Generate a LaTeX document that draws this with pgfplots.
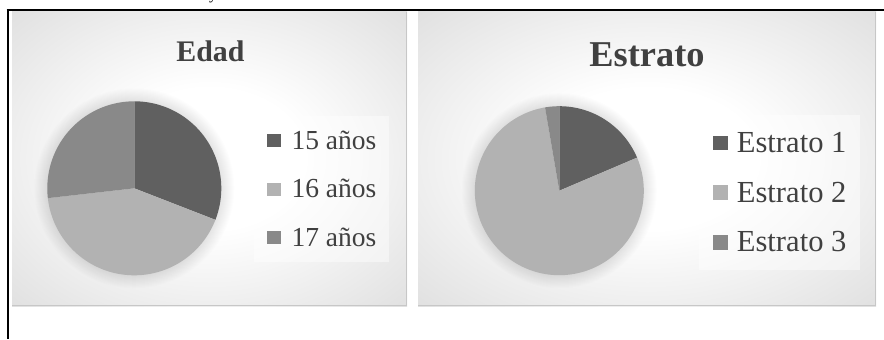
\documentclass[border=0pt]{standalone}
\usepackage{pgfplots}
\pgfplotsset{compat=1.18}
\usepackage{pgfplotstable}
\usepackage{fontspec}
\setmainfont{Liberation Serif}

\definecolor{sA}{HTML}{606060}
\definecolor{sB}{HTML}{B2B2B2}
\definecolor{sC}{HTML}{898989}
\definecolor{txt}{HTML}{404040}
\definecolor{edgeg}{HTML}{BCBCBC}
\definecolor{midg}{HTML}{CECECE}
\pgfdeclareradialshading{panelshade}{\pgfpoint{0bp}{0bp}}{color(0bp)=(white); color(12bp)=(white); color(50bp)=(midg); color(71bp)=(edgeg)}

\pgfplotstableread{
valor
30.9
42.3
26.8
}\edad
\pgfplotstableread{
valor
18.6
78.7
2.7
}\estrato

\begin{document}
\begin{tikzpicture}[x=1bp,y=1bp]
\useasboundingbox (0,0) rectangle (884,339);
% cut-off text above
\node[anchor=base, inner sep=0pt, font=\fontsize{16}{16}\selectfont] at (213,339.5) {y};
% table borders
\draw[line width=2bp] (6.7,328.5) -- (884,328.5);
\draw[line width=2bp] (7.7,329.5) -- (7.7,0);
% panels
\shade[shading=panelshade] (12,33) rectangle (407,327);
\shade[shading=panelshade] (418,33) rectangle (876,327);
\draw[black!22, line width=1.2bp] (12,33.6) -- (406.4,33.6) -- (406.4,327);
\draw[black!22, line width=1.2bp] (418,33.6) -- (875.4,33.6) -- (875.4,327);
% pie halos
\foreach \k in {1,...,14} {
  \fill[black, opacity=0.008] (134.3,150.7) circle ({86+\k});
  \fill[black, opacity=0.008] (559.3,148.3) circle ({83.5+\k});
}
% titles
\node[anchor=base, inner sep=0pt, text=txt, font=\bfseries\fontsize{30}{30}\selectfont] at (210.5,278) {Edad};
\node[anchor=base, inner sep=0pt, text=txt, font=\bfseries\fontsize{36.5}{36.5}\selectfont] at (647,273) {Estrato};

% angles for Edad
\pgfplotstablegetelem{0}{valor}\of\edad\let\eA\pgfplotsretval
\pgfplotstablegetelem{1}{valor}\of\edad\let\eB\pgfplotsretval
\pgfplotstablegetelem{2}{valor}\of\edad\let\eC\pgfplotsretval
\pgfmathsetmacro\eT{\eA+\eB+\eC}
\pgfmathsetmacro\ea{90}
\pgfmathsetmacro\eb{90-360*(\eA/\eT)}
\pgfmathsetmacro\ec{90-360*((\eA+\eB)/\eT)}
\pgfmathsetmacro\ed{90-360}
% angles for Estrato
\pgfplotstablegetelem{0}{valor}\of\estrato\let\sa\pgfplotsretval
\pgfplotstablegetelem{1}{valor}\of\estrato\let\sb\pgfplotsretval
\pgfplotstablegetelem{2}{valor}\of\estrato\let\sc\pgfplotsretval
\pgfmathsetmacro\sT{\sa+\sb+\sc}
\pgfmathsetmacro\ta{90}
\pgfmathsetmacro\tb{90-360*(\sa/\sT)}
\pgfmathsetmacro\tc{90-360*((\sa+\sb)/\sT)}
\pgfmathsetmacro\td{90-360}

\begin{axis}[at={(0,0)}, anchor=south west, x=1bp, y=1bp,
  xmin=0, xmax=884, ymin=0, ymax=339, hide axis, clip=false,
  legend cell align=left,
  legend style={at={(254/884,223/339)}, anchor=north west, draw=none,
    fill=white, fill opacity=0.45, text opacity=1, text=txt,
    font=\fontsize{27.6}{30}\selectfont,
    inner xsep=13bp, inner ysep=14.5bp, row sep=28.5bp,
    nodes={inner sep=0pt},
    /tikz/every odd column/.append style={column sep=11bp}}]
\addplot[fill=sA, draw=none, domain=\eb:\ea, samples=90, forget plot]
  ({134.3+87*cos(x)},{150.7+87*sin(x)}) -- (axis cs:134.3,150.7) -- cycle;
\addplot[fill=sB, draw=none, domain=\ec:\eb, samples=120, forget plot]
  ({134.3+87*cos(x)},{150.7+87*sin(x)}) -- (axis cs:134.3,150.7) -- cycle;
\addplot[fill=sC, draw=none, domain=\ed:\ec, samples=90, forget plot]
  ({134.3+87*cos(x)},{150.7+87*sin(x)}) -- (axis cs:134.3,150.7) -- cycle;
\addlegendimage{legend image code/.code={\fill[sA, fill opacity=1, draw=none] (0bp,-6.6bp) rectangle (13.4bp,6.6bp);}}
\addlegendentry{15 años}
\addlegendimage{legend image code/.code={\fill[sB, fill opacity=1, draw=none] (0bp,-6.6bp) rectangle (13.4bp,6.6bp);}}
\addlegendentry{16 años}
\addlegendimage{legend image code/.code={\fill[sC, fill opacity=1, draw=none] (0bp,-6.6bp) rectangle (13.4bp,6.6bp);}}
\addlegendentry{17 años}
\end{axis}

\begin{axis}[at={(0,0)}, anchor=south west, x=1bp, y=1bp,
  xmin=0, xmax=884, ymin=0, ymax=339, hide axis, clip=false,
  legend cell align=left,
  legend style={at={(699/884,224/339)}, anchor=north west, draw=none,
    fill=white, fill opacity=0.45, text opacity=1, text=txt,
    font=\fontsize{30.7}{33}\selectfont,
    inner xsep=13.7bp, inner ysep=17bp, row sep=28bp,
    nodes={inner sep=0pt},
    /tikz/every odd column/.append style={column sep=9.4bp}}]
\addplot[fill=sA, draw=none, domain=\tb:\ta, samples=60, forget plot]
  ({559.3+84.5*cos(x)},{148.3+84.5*sin(x)}) -- (axis cs:559.3,148.3) -- cycle;
\addplot[fill=sB, draw=none, domain=\tc:\tb, samples=180, forget plot]
  ({559.3+84.5*cos(x)},{148.3+84.5*sin(x)}) -- (axis cs:559.3,148.3) -- cycle;
\addplot[fill=sC, draw=none, domain=\td:\tc, samples=20, forget plot]
  ({559.3+84.5*cos(x)},{148.3+84.5*sin(x)}) -- (axis cs:559.3,148.3) -- cycle;
\addlegendimage{legend image code/.code={\fill[sA, fill opacity=1, draw=none] (0bp,-7.3bp) rectangle (14.6bp,7.3bp);}}
\addlegendentry{Estrato 1}
\addlegendimage{legend image code/.code={\fill[sB, fill opacity=1, draw=none] (0bp,-7.3bp) rectangle (14.6bp,7.3bp);}}
\addlegendentry{Estrato 2}
\addlegendimage{legend image code/.code={\fill[sC, fill opacity=1, draw=none] (0bp,-7.3bp) rectangle (14.6bp,7.3bp);}}
\addlegendentry{Estrato 3}
\end{axis}
\end{tikzpicture}
\end{document}
